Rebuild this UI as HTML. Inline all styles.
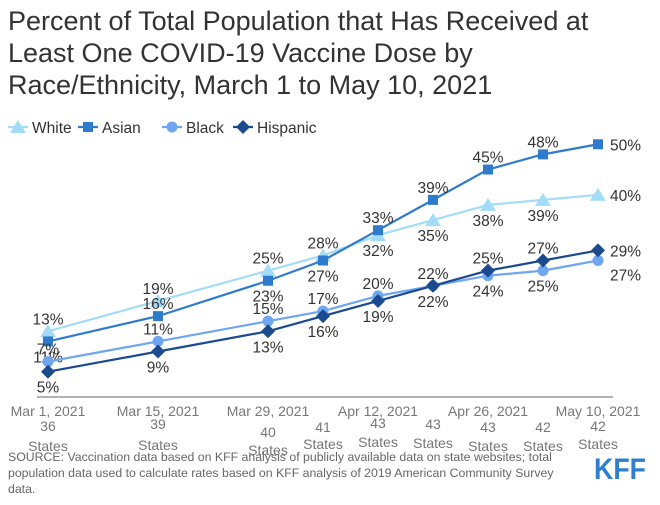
<!DOCTYPE html>
<html><head><meta charset="utf-8"><style>
body{margin:0;background:#fff;font-family:"Liberation Sans",sans-serif;}
svg text{font-family:"Liberation Sans",sans-serif;}
</style></head><body>
<svg width="660" height="500" viewBox="0 0 660 500">
<g font-size="27" fill="#333">
<text x="8" y="30">Percent of Total Population that Has Received at</text>
<text x="8" y="62">Least One COVID-19 Vaccine Dose by</text>
<text x="8" y="94">Race/Ethnicity, March 1 to May 10, 2021</text>
</g>
<g id="legend"></g>
<line x1="37" y1="397" x2="613" y2="397" stroke="#666" stroke-width="1"/>
<g id="xticks"></g>
<g id="plot"></g>
<g font-size="12.3" fill="#666">
<text x="8" y="461">SOURCE: Vaccination data based on KFF analysis of publicly available data on state websites; total</text>
<text x="8" y="477">population data used to calculate rates based on KFF analysis of 2019 American Community Survey</text>
<text x="8" y="493">data.</text>
</g>
<text x="594" y="479" font-size="30" font-weight="bold" fill="#2f7fd0" textLength="52" lengthAdjust="spacingAndGlyphs">KFF</text>
</svg>
<script>
const days=[0,14,28,35,42,49,56,63,70];
const stateCounts=["36","39","40","41","43","43","43","42","42"];
const tickDays=[0,14,28,42,56,70];
const tickLabels=["Mar 1, 2021","Mar 15, 2021","Mar 29, 2021","Apr 12, 2021","Apr 26, 2021","May 10, 2021"];
const white=[13,19,25,28,32,35,38,39,40];
const asian=[11,16,23,27,33,39,45,48,50];
const black=[7,11,15,17,20,22,24,25,27];
const hispanic=[5,9,13,16,19,22,25,27,29];
const whitePos=["a","a","a","a","b","b","b","b","r"];
const asianPos=["b","a","b","b","a","a","a","a","r"];
const blackPos=["a","a","a","a","a","a","b","b","rb"];
const hispPos=["b","b","b","b","b","b","a","a","r"];
const X=d=>48+d*550/70, Y=v=>397-v*5.055;
const NS="http://www.w3.org/2000/svg";
function mk(tag,attrs,parent){const e=document.createElementNS(NS,tag);for(const k in attrs)e.setAttribute(k,attrs[k]);parent.appendChild(e);return e;}
const plot=document.getElementById('plot');
function marker(type,x,y,color,g){
 let e;
 if(type==='tri')e=mk('polygon',{points:`${x},${y-7} ${x+8},${y+6} ${x-8},${y+6}`,fill:color},g);
 else if(type==='sq')e=mk('rect',{x:x-5,y:y-5,width:10,height:10,fill:color},g);
 else if(type==='circ')e=mk('circle',{cx:x,cy:y,r:5.5,fill:color},g);
 else e=mk('polygon',{points:`${x},${y-7} ${x+7},${y} ${x},${y+7} ${x-7},${y}`,fill:color},g);
 return e;
}
const series=[
 {name:"white",vals:white,pos:whitePos,color:"#a3dcf8",m:"tri"},
 {name:"asian",vals:asian,pos:asianPos,color:"#2e7bcc",m:"sq"},
 {name:"black",vals:black,pos:blackPos,color:"#6ea6f2",m:"circ"},
 {name:"hispanic",vals:hispanic,pos:hispPos,color:"#1b4a8e",m:"dia"}];
series.forEach(s=>{
 const g=mk('g',{},plot);
 
 
 const pl=mk('polyline',{points:s.vals.map((v,i)=>X(days[i])+','+Y(v)).join(' '),fill:'none',stroke:s.color,'stroke-width':2.2},g);
 
 
 s.vals.forEach((v,i)=>{
  const x=X(days[i]),y=Y(v);
  const m=marker(s.m,x,y,s.color,g);
  
  
  const p=s.pos[i];let tx=x,ty,anchor='middle';
  if(p==='a')ty=y-7;else if(p==='b')ty=y+21;else if(p==='r'){tx=x+12;ty=y+6;anchor='start';}else{tx=x+12;ty=y+20;anchor='start';}
  const t=mk('text',{x:tx,y:ty,'font-size':15.5,fill:'#333','text-anchor':anchor},g);
  t.textContent=v+'%';
  
  
 });
});
const xt=document.getElementById('xticks');
tickDays.forEach((d,i)=>{
 const t=mk('text',{x:X(d),y:416,'font-size':14,fill:'#777','text-anchor':'middle'},xt);
 t.textContent=tickLabels[i];
 
 
});
const numY=[431,429,437,432,428,429,432,432,431];
const stY=[451,450,455,449,447,448,451,451,449];
days.forEach((d,i)=>{
 const a=mk('text',{x:X(d),y:numY[i],'font-size':14,fill:'#777','text-anchor':'middle'},xt);
 a.textContent=stateCounts[i];
 
 
 const b=mk('text',{x:X(d),y:stY[i],'font-size':14,fill:'#777','text-anchor':'middle'},xt);
 b.textContent='States';
 
 
});
const lg=document.getElementById('legend');
const lx=[8,78,162,233];const ln=["White","Asian","Black","Hispanic"];
series.forEach((s,i)=>{
 const g=mk('g',{},lg);
 
 
 mk('line',{x1:lx[i],y1:127,x2:lx[i]+20,y2:127,stroke:s.color,'stroke-width':2.2},g);
 marker(s.m,lx[i]+10,127,s.color,g);
 const t=mk('text',{x:lx[i]+24,y:133,'font-size':15.5,fill:'#333'},g);
 t.textContent=ln[i];
});
</script>
</body></html>
